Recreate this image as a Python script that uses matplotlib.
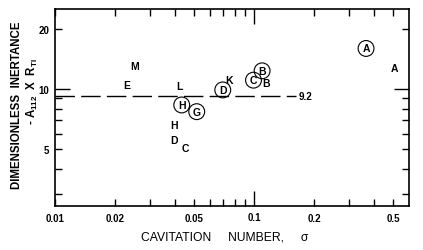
import numpy as np
import matplotlib.pyplot as plt
from matplotlib.ticker import FixedLocator, FixedFormatter, NullFormatter

plt.rcParams['font.family'] = ['Liberation Sans', 'DejaVu Sans']
plt.rcParams['mathtext.default'] = 'regular'

# plain letters (uncircled points)
plain_lab = ['M', 'E', 'L', 'H', 'D', 'C', 'K', 'B', 'A']
plain_x = [0.025, 0.0229, 0.0421, 0.0396, 0.0396, 0.0452, 0.0751, 0.1153, 0.507]
plain_y = [13.1, 10.5, 10.4, 6.62, 5.54, 5.07, 11.1, 10.7, 12.75]

# circled letters
circ_lab = ['H', 'G', 'D', 'C', 'B', 'A']
circ_x = [0.0433, 0.0515, 0.0696, 0.0993, 0.1097, 0.365]
circ_y = [8.34, 7.72, 9.92, 11.1, 12.36, 16.0]

# mean value line
ref_val = 9.2
ref_x = [0.01, 0.162]

fig = plt.figure(figsize=(4.23, 2.51), dpi=100)
ax = fig.add_axes([0.130, 0.175, 0.838, 0.785])
ax.set_xscale('log')
ax.set_yscale('log')
ax.set_xlim(0.01, 0.603)
ax.set_ylim(2.6, 25.2)

ax.plot(ref_x, [ref_val, ref_val], color='k', lw=1.0, dashes=(14, 4.5))
ax.text(0.168, ref_val, '9.2', fontsize=7, fontweight='bold', va='center', ha='left')

for l, x, y in zip(plain_lab, plain_x, plain_y):
    ax.text(x, y, l, fontsize=7.5, fontweight='bold', ha='center', va='center')

ax.scatter(circ_x, circ_y, s=130, facecolors='none', edgecolors='k', linewidths=0.8)
for l, x, y in zip(circ_lab, circ_x, circ_y):
    ax.text(x, y, l, fontsize=7.5, fontweight='bold', ha='center', va='center')

# ticks
xmaj = [0.1]
xmin = [0.01, 0.02, 0.03, 0.04, 0.05, 0.06, 0.07, 0.08, 0.09, 0.2, 0.3, 0.4, 0.5]
xmin_lab = ['0.01', '0.02', '', '', '0.05', '', '', '', '', '0.2', '', '', '0.5']
ax.xaxis.set_major_locator(FixedLocator(xmaj))
ax.xaxis.set_major_formatter(FixedFormatter(['0.1']))
ax.xaxis.set_minor_locator(FixedLocator(xmin))
ax.xaxis.set_minor_formatter(FixedFormatter(xmin_lab))

ymaj = [10]
ymin = [3, 4, 5, 6, 7, 8, 9, 20]
ymin_lab = ['', '', '5', '', '', '', '', '20']
ax.yaxis.set_major_locator(FixedLocator(ymaj))
ax.yaxis.set_major_formatter(FixedFormatter(['10']))
ax.yaxis.set_minor_locator(FixedLocator(ymin))
ax.yaxis.set_minor_formatter(FixedFormatter(ymin_lab))

ax.tick_params(which='both', direction='in', top=True, right=True, width=1.0,
               labelsize=7, color='k')
ax.tick_params(axis='x', which='both', pad=5)
ax.tick_params(axis='x', which='major', pad=4.2)
ax.tick_params(axis='y', which='both', pad=4)
ax.tick_params(which='major', length=10.5)
ax.tick_params(which='minor', length=5)
for lab in ax.get_xticklabels(which='both') + ax.get_yticklabels(which='both'):
    lab.set_fontweight('bold')

for sp in ax.spines.values():
    sp.set_linewidth(1.2)

fig.text(0.53, 0.052, 'CAVITATION     NUMBER,     \u03c3', fontsize=8.7, ha='center', va='center')
fig.text(0.040, 0.582, 'DIMENSIONLESS  INERTANCE', fontsize=8.3, fontweight='bold',
         rotation=90, ha='center', va='center')
fig.text(0.076, 0.633, '- A$_{112}$  X  R$_{TI}$', fontsize=8.3, fontweight='bold',
         rotation=90, ha='center', va='center')

fig.savefig('out.png', dpi=100)
